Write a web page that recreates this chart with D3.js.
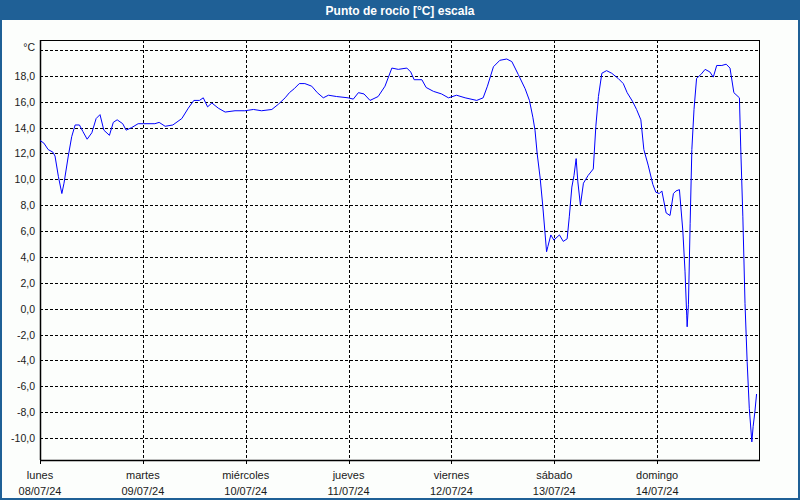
<!DOCTYPE html>
<html>
<head>
<meta charset="utf-8">
<script src="https://cdn.jsdelivr.net/npm/d3@7"></script>
<style>
  html, body { margin: 0; padding: 0; background: #fcfefc; }
  svg { display: block; }
  text { font-family: "Liberation Sans", Arial, sans-serif; }
</style>
</head>
<body>
<svg id="chart" width="800" height="500"></svg>
<script>
const title = "Punto de rocío [°C] escala";
const unitLabel = "°C";
const dayNames = ["lunes", "martes", "miércoles", "jueves", "viernes", "sábado", "domingo"];
const dayDates = ["08/07/24", "09/07/24", "10/07/24", "11/07/24", "12/07/24", "13/07/24", "14/07/24"];
const yTicks = [-10, -8, -6, -4, -2, 0, 2, 4, 6, 8, 10, 12, 14, 16, 18];
// hours since lunes 08/07/24 00:00
const hours = [0, 0.9, 1.9, 3.0, 3.5, 4.3, 5.1, 5.6, 6.6, 7.4, 8.2, 9.2, 10.0, 11.0, 12.1, 13.1, 14.0, 14.9, 16.2, 17.1, 18.0, 19.3, 20.1, 21.4, 22.9, 24.1, 26.8, 27.8, 29.2, 31.0, 33.1, 34.6, 35.9, 37.2, 38.1, 39.1, 40.1, 41.6, 43.2, 45.5, 47.8, 49.8, 51.7, 54.1, 55.6, 57.2, 58.2, 59.3, 60.5, 61.8, 63.4, 64.7, 66.1, 67.3, 69.2, 71.9, 73.1, 74.3, 75.6, 77.0, 78.9, 80.5, 82.1, 83.6, 85.6, 86.5, 87.3, 89.1, 90.1, 91.8, 93.7, 95.3, 97.2, 99.2, 101.9, 103.4, 104.4, 105.8, 107.3, 108.9, 110.1, 111.6, 113.2, 114.2, 115.0, 115.5, 116.0, 116.7, 117.3, 117.8, 118.2, 118.5, 119.2, 119.9, 121.2, 122.1, 123.0, 123.5, 124.1, 124.6, 125.1, 125.5, 126.1, 126.8, 127.9, 129.1, 129.7, 130.3, 131.1, 132.2, 133.4, 134.9, 136.1, 137.0, 138.3, 139.2, 140.2, 140.9, 141.9, 143.0, 143.7, 144.5, 145.1, 146.1, 147.0, 147.8, 148.4, 149.2, 150.0, 150.5, 150.9, 151.0, 151.3, 151.7, 152.1, 152.6, 153.2, 154.2, 155.2, 156.3, 157.1, 157.9, 159.1, 160.1, 161.0, 161.9, 163.2, 163.5, 164.0, 164.5, 165.0, 165.5, 166.1, 166.4, 166.8, 167.2];
const dewPoint = [13.0, 12.8, 12.3, 12.1, 11.8, 10.2, 8.9, 9.7, 11.8, 13.3, 14.2, 14.2, 13.7, 13.1, 13.6, 14.7, 15.0, 13.8, 13.4, 14.4, 14.6, 14.3, 13.8, 14.0, 14.3, 14.3, 14.3, 14.4, 14.1, 14.2, 14.7, 15.5, 16.1, 16.1, 16.3, 15.6, 15.9, 15.5, 15.2, 15.3, 15.3, 15.4, 15.3, 15.4, 15.8, 16.3, 16.7, 17.0, 17.4, 17.4, 17.2, 16.7, 16.3, 16.5, 16.4, 16.3, 16.2, 16.7, 16.6, 16.1, 16.4, 17.2, 18.6, 18.5, 18.6, 18.3, 17.7, 17.7, 17.1, 16.8, 16.6, 16.3, 16.5, 16.3, 16.1, 16.3, 17.2, 18.7, 19.2, 19.3, 19.1, 18.1, 17.0, 16.1, 14.8, 13.8, 12.0, 10.1, 8.0, 6.0, 4.4, 4.8, 5.7, 5.3, 5.7, 5.2, 5.4, 7.1, 9.4, 10.3, 11.6, 9.8, 8.0, 9.7, 10.3, 10.8, 14.1, 16.4, 18.2, 18.4, 18.2, 17.8, 17.4, 16.7, 16.0, 15.4, 14.6, 12.3, 11.1, 9.6, 9.0, 8.9, 9.1, 7.4, 7.2, 8.9, 9.1, 9.2, 6.0, 2.9, -0.5, -1.4, 0.3, 6.6, 12.3, 15.4, 17.8, 18.1, 18.5, 18.3, 17.9, 18.8, 18.8, 18.9, 18.6, 16.7, 16.3, 12.5, 7.1, 0.4, -4.1, -7.7, -10.3, -9.1, -8.0, -6.6];

const svg = d3.select("#chart");
const W = 800, H = 500;
const plot = { left: 40, right: 760, top: 40, bottom: 460 };

svg.append("rect").attr("x", 0).attr("y", 0).attr("width", W).attr("height", H).attr("fill", "#fcfefc");

// title bar
svg.append("rect").attr("x", 0).attr("y", 0).attr("width", W).attr("height", 20).attr("fill", "#1f6096");
svg.append("text").attr("x", W / 2).attr("y", 14.5).attr("text-anchor", "middle")
  .attr("fill", "#ffffff").attr("font-size", "12px").attr("font-weight", "bold").text(title);

// outer border
svg.append("rect").attr("x", 1).attr("y", 1).attr("width", W - 2).attr("height", H - 2)
  .attr("fill", "none").attr("stroke", "#1f6096").attr("stroke-width", 2);

const start = new Date(2024, 6, 8, 0, 0);
const end = new Date(2024, 6, 15, 0, 0);
const x = d3.scaleTime().domain([start, end]).range([plot.left, plot.right]);
const y = d3.scaleLinear().domain([-11.7, 20.77]).range([plot.bottom, plot.top]);

const days = d3.timeDay.range(start, end);

// horizontal gridlines
const gridVals = yTicks.concat([20]);
svg.append("g").selectAll("line").data(gridVals).join("line")
  .attr("x1", plot.left).attr("x2", plot.right)
  .attr("y1", d => Math.round(y(d)) + 0.5).attr("y2", d => Math.round(y(d)) + 0.5)
  .attr("stroke", "#000").attr("stroke-width", 1).attr("stroke-dasharray", "3,2");

// vertical gridlines
svg.append("g").selectAll("line").data(days.slice(1)).join("line")
  .attr("x1", d => Math.round(x(d)) + 0.5).attr("x2", d => Math.round(x(d)) + 0.5)
  .attr("y1", plot.top).attr("y2", plot.bottom)
  .attr("stroke", "#000").attr("stroke-width", 1).attr("stroke-dasharray", "3,2");

// plot frame
svg.append("rect").attr("x", plot.left + 0.5).attr("y", plot.top + 0.5)
  .attr("width", plot.right - plot.left - 1).attr("height", plot.bottom - plot.top)
  .attr("fill", "none").attr("stroke", "#000").attr("stroke-width", 1);
svg.append("line").attr("x1", plot.left + 0.5).attr("x2", plot.left + 0.5)
  .attr("y1", plot.top).attr("y2", plot.bottom).attr("stroke", "#000").attr("stroke-width", 1.5);
svg.append("line").attr("x1", plot.left).attr("x2", plot.right)
  .attr("y1", plot.bottom + 0.5).attr("y2", plot.bottom + 0.5).attr("stroke", "#000").attr("stroke-width", 1.5);

// x ticks
svg.append("g").selectAll("line").data(days).join("line")
  .attr("x1", d => Math.round(x(d)) + 0.5).attr("x2", d => Math.round(x(d)) + 0.5)
  .attr("y1", plot.bottom).attr("y2", plot.bottom + 4)
  .attr("stroke", "#000");

// x labels
const xl = svg.append("g").attr("font-size", "11px").attr("fill", "#1a1a1a").attr("text-anchor", "middle");
xl.selectAll("text.dn").data(days).join("text").attr("class", "dn")
  .attr("x", d => x(d)).attr("y", 479).text((d, i) => dayNames[i]);
xl.selectAll("text.dd").data(days).join("text").attr("class", "dd")
  .attr("x", d => x(d)).attr("y", 495).text((d, i) => dayDates[i]);

// y labels
const yl = svg.append("g").attr("font-size", "10.5px").attr("fill", "#1a1a1a").attr("text-anchor", "end");
yl.selectAll("text").data(yTicks).join("text")
  .attr("x", 35).attr("y", d => y(d) + 4)
  .text(d => d3.format(".1f")(d).replace(".", ",").replace("−", "-"));
yl.append("text").attr("x", 35).attr("y", y(20) + 1).text(unitLabel);

// line
const pts = hours.map((h, i) => [new Date(start.getTime() + h * 3600e3), dewPoint[i]]);
svg.append("path").datum(pts)
  .attr("fill", "none").attr("stroke", "#0000ff").attr("stroke-width", 1)
  .attr("d", d3.line().x(d => x(d[0])).y(d => y(d[1])));
</script>
</body>
</html>
